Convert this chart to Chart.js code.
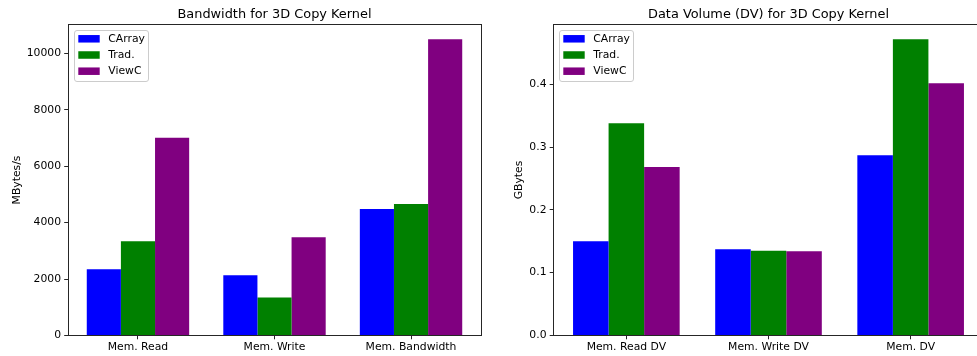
<!DOCTYPE html>
<html>
<head>
<meta charset="utf-8">
<title>3D Copy Kernel</title>
<style>
  html, body { margin: 0; padding: 0; background: #fff; overflow: hidden; }
  #wrap { position: relative; width: 977px; height: 356px; overflow: hidden; }
  .panel { position: absolute; top: 0; height: 356px; }
  #leftPanel { left: 0; width: 490px; }
  #rightPanel { left: 490px; width: 500px; }
  canvas { display: block; }
</style>
<script src="https://cdn.jsdelivr.net/npm/chart.js@4/dist/chart.umd.min.js"></script>
</head>
<body>
<div id="wrap">
  <div class="panel" id="leftPanel"><canvas id="bwChart" width="490" height="356"></canvas></div>
  <div class="panel" id="rightPanel"><canvas id="dvChart" width="500" height="356"></canvas></div>
</div>
<script>
// Series shared by both panels
const seriesNames = ['CArray', 'Trad.', 'ViewC'];
const seriesColors = ['#0000ff', '#008000', '#800080'];

// Bandwidth (MBytes/s)
const bwCategories = ['Mem. Read', 'Mem. Write', 'Mem. Bandwidth'];
const bwCArray = [2345, 2140, 4483];
const bwTrad = [3338, 1350, 4660];
const bwViewC = [7010, 3480, 10500];
const bwTicks = [0, 2000, 4000, 6000, 8000, 10000];

// Data volume (GBytes)
const dvCategories = ['Mem. Read DV', 'Mem. Write DV', 'Mem. DV'];
const dvCArray = [0.150, 0.1375, 0.287];
const dvTrad = [0.338, 0.1348, 0.4716];
const dvViewC = [0.2684, 0.1343, 0.4016];
const dvTicks = [0, 0.1, 0.2, 0.3, 0.4];

const FONT = '"DejaVu Sans", "Liberation Sans", sans-serif';
const TICK_SIZE = 10.8;
Chart.defaults.font.family = FONT;
Chart.defaults.color = '#000';

// Closed axes box around the plotting area
const framePlugin = {
  id: 'frame',
  afterDatasetsDraw(chart) {
    const { ctx, chartArea: a } = chart;
    const l = Math.floor(a.left) + 0.5, r = Math.floor(a.right) + 0.5;
    const t = Math.floor(a.top) + 0.5, b = Math.floor(a.bottom) + 0.5;
    ctx.save();
    ctx.strokeStyle = '#262626';
    ctx.lineWidth = 1;
    ctx.strokeRect(l, t, r - l, b - t);
    ctx.restore();
  }
};

// Framed legend in the upper-left corner of the plotting area
const boxLegendPlugin = {
  id: 'boxLegend',
  afterDatasetsDraw(chart) {
    const { ctx, chartArea: a } = chart;
    const sets = chart.data.datasets;
    ctx.save();
    ctx.font = TICK_SIZE + 'px ' + FONT;
    const textW = Math.max(...sets.map(d => ctx.measureText(d.label).width));
    const x0 = Math.floor(a.left + 6) + 0.5;
    const y0 = Math.floor(a.top + 6) + 0.5;
    const w = Math.round(33.8 + textW + 4);
    const h = 51;
    const rad = 2.5;
    ctx.beginPath();
    ctx.moveTo(x0 + rad, y0);
    ctx.lineTo(x0 + w - rad, y0);
    ctx.arcTo(x0 + w, y0, x0 + w, y0 + rad, rad);
    ctx.lineTo(x0 + w, y0 + h - rad);
    ctx.arcTo(x0 + w, y0 + h, x0 + w - rad, y0 + h, rad);
    ctx.lineTo(x0 + rad, y0 + h);
    ctx.arcTo(x0, y0 + h, x0, y0 + h - rad, rad);
    ctx.lineTo(x0, y0 + rad);
    ctx.arcTo(x0, y0, x0 + rad, y0, rad);
    ctx.closePath();
    ctx.fillStyle = 'rgba(255,255,255,0.8)';
    ctx.fill();
    ctx.strokeStyle = '#cccccc';
    ctx.lineWidth = 1;
    ctx.stroke();
    sets.forEach((d, i) => {
      const cy = y0 + 8.3 + i * 16.2;
      ctx.fillStyle = d.backgroundColor;
      ctx.fillRect(x0 + 3.8, cy - 3.75, 21.4, 7.5);
      ctx.fillStyle = '#000';
      ctx.textAlign = 'left';
      ctx.textBaseline = 'middle';
      ctx.fillText(d.label, x0 + 33.8, cy);
    });
    ctx.restore();
  }
};

function makeChart(canvasId, cfg) {
  const n = cfg.categories.length;
  // bars of width 0.25 around each category, plus a 5% margin on each side
  const span = (n - 1) + 0.75;
  const xMin = -0.375 - span * 0.05;
  const xMax = (n - 1) + 0.375 + span * 0.05;
  const yMax = Math.max(...cfg.series.flat()) * 1.05;

  const datasets = cfg.series.map((vals, s) => ({
    label: seriesNames[s],
    data: vals.map((v, i) => ({ x: i, y: v })),
    backgroundColor: seriesColors[s],
    borderWidth: 0,
    categoryPercentage: 0.75,
    barPercentage: 1.0
  }));

  return new Chart(document.getElementById(canvasId), {
    type: 'bar',
    data: { datasets },
    plugins: [framePlugin, boxLegendPlugin],
    options: {
      responsive: false,
      animation: false,
      devicePixelRatio: 1,
      layout: { padding: { left: 0, right: cfg.padRight, top: 0, bottom: 0 } },
      plugins: {
        legend: { display: false },
        tooltip: { enabled: false },
        title: {
          display: true,
          text: cfg.title,
          fullSize: false,
          color: '#000',
          font: { family: FONT, size: 12.9, weight: 'normal', lineHeight: 1.2 },
          padding: { top: 6.9, bottom: 2.1 }
        }
      },
      scales: {
        x: {
          type: 'linear',
          min: xMin,
          max: xMax,
          offset: false,
          afterBuildTicks: s => { s.ticks = cfg.categories.map((_, i) => ({ value: i })); },
          afterFit: s => { s.height = 20.5; },
          grid: { offset: false, drawOnChartArea: false, drawTicks: true, tickLength: 3.8, color: '#262626', lineWidth: 1 },
          border: { display: false },
          ticks: {
            callback: v => cfg.categories[v] ?? '',
            color: '#000',
            font: { family: FONT, size: TICK_SIZE },
            padding: 1.7,
            maxRotation: 0,
            autoSkip: false
          }
        },
        y: {
          type: 'linear',
          min: 0,
          max: yMax,
          afterBuildTicks: s => { s.ticks = cfg.ticks.map(v => ({ value: v })); },
          afterFit: s => { s.width = cfg.yWidth; },
          grid: { drawOnChartArea: false, drawTicks: true, tickLength: 3.8, color: '#262626', lineWidth: 1 },
          border: { display: false },
          ticks: {
            callback: cfg.tickFormat,
            color: '#000',
            font: { family: FONT, size: TICK_SIZE },
            padding: 3.2,
            autoSkip: false
          },
          title: {
            display: true,
            text: cfg.yTitle,
            color: '#000',
            font: { family: FONT, size: TICK_SIZE, lineHeight: 1.2 },
            padding: { top: cfg.yTitlePad, bottom: 0 }
          }
        }
      }
    }
  });
}

makeChart('bwChart', {
  title: 'Bandwidth for 3D Copy Kernel',
  categories: bwCategories,
  series: [bwCArray, bwTrad, bwViewC],
  ticks: bwTicks,
  tickFormat: v => String(v),
  yTitle: 'MBytes/s',
  yWidth: 68,
  yTitlePad: 11,
  padRight: 9
});

makeChart('dvChart', {
  title: 'Data Volume (DV) for 3D Copy Kernel',
  categories: dvCategories,
  series: [dvCArray, dvTrad, dvViewC],
  ticks: dvTicks,
  tickFormat: v => Number(v).toFixed(1),
  yTitle: 'GBytes',
  yWidth: 63.5,
  yTitlePad: 22.7,
  padRight: 6.5
});
</script>
</body>
</html>
